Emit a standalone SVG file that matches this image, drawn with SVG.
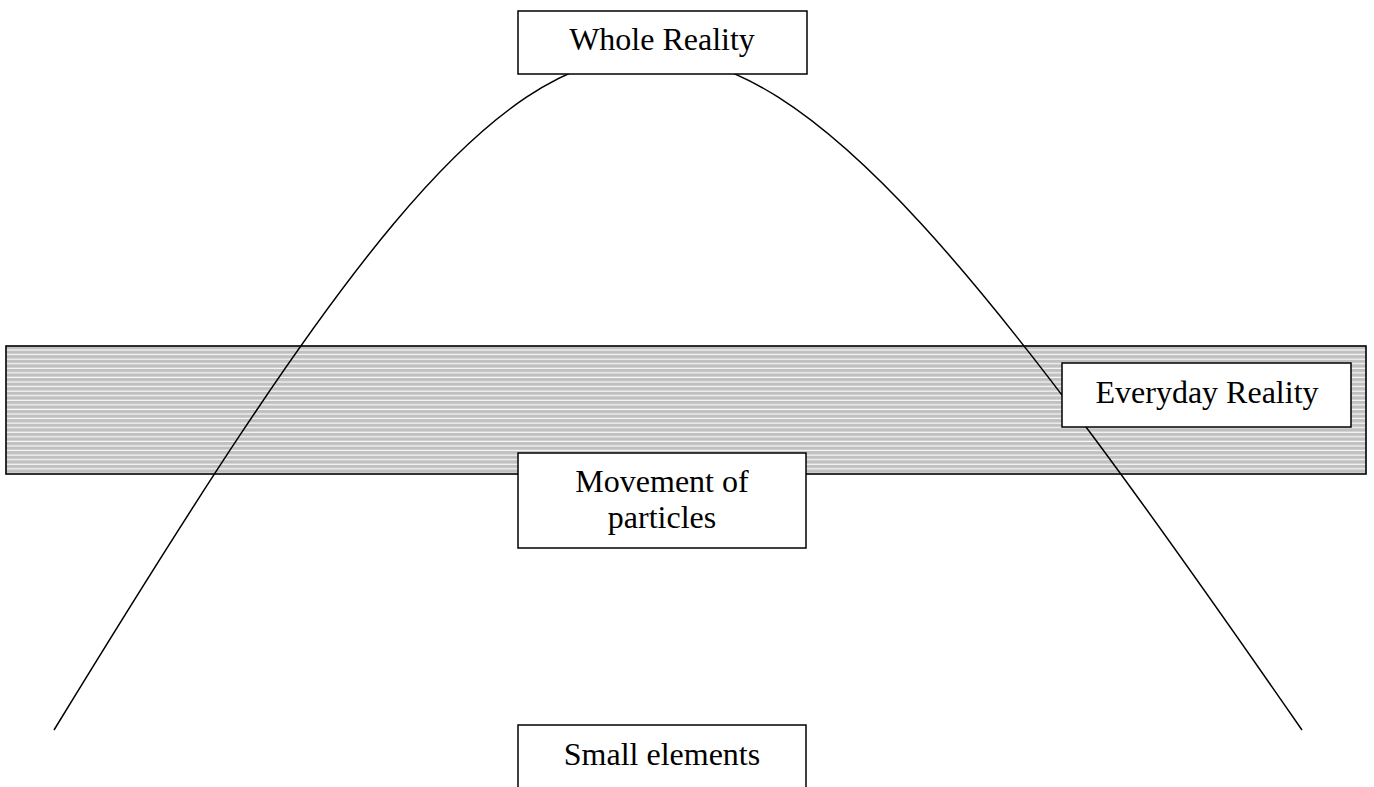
<svg xmlns="http://www.w3.org/2000/svg" width="1374" height="787" viewBox="0 0 1374 787">
<style>
.box{fill:#fff;stroke:#000;stroke-width:1.5}
.lbl{font-family:"Liberation Serif","Times New Roman",serif;font-size:32px;fill:#000;text-anchor:middle}
.curve{fill:none;stroke:#000;stroke-width:1.5}
</style>
<defs>
<pattern id="hatch" patternUnits="userSpaceOnUse" x="0" y="346" width="10" height="4.57">
<rect x="0" y="0" width="10" height="4.57" fill="#c0c0c0"/>
<rect x="0" y="3.4" width="10" height="1.1" fill="#fff"/>
</pattern>
</defs>
<rect width="1374" height="787" fill="#fff"/>
<g id="band">
<rect x="6" y="346" width="1360" height="128" fill="url(#hatch)" stroke="#000" stroke-width="1.6"/>
</g>
<g id="connectors">
<path class="curve" d="M54,730 C605,-170 678,-170 1302,730"/>
</g>
<g id="whole-reality">
<rect class="box" x="518" y="11" width="289" height="63"/>
<text class="lbl" x="662" y="50">Whole Reality</text>
</g>
<g id="everyday-reality">
<rect class="box" x="1062" y="363" width="289" height="64"/>
<text class="lbl" x="1207" y="403">Everyday Reality</text>
</g>
<g id="movement">
<rect class="box" x="518" y="453" width="288" height="95"/>
<text class="lbl" x="662" y="492">Movement of</text>
<text class="lbl" x="662" y="528">particles</text>
</g>
<g id="small-elements">
<rect class="box" x="518" y="725" width="288" height="80"/>
<text class="lbl" x="662" y="765">Small elements</text>
</g>
</svg>
